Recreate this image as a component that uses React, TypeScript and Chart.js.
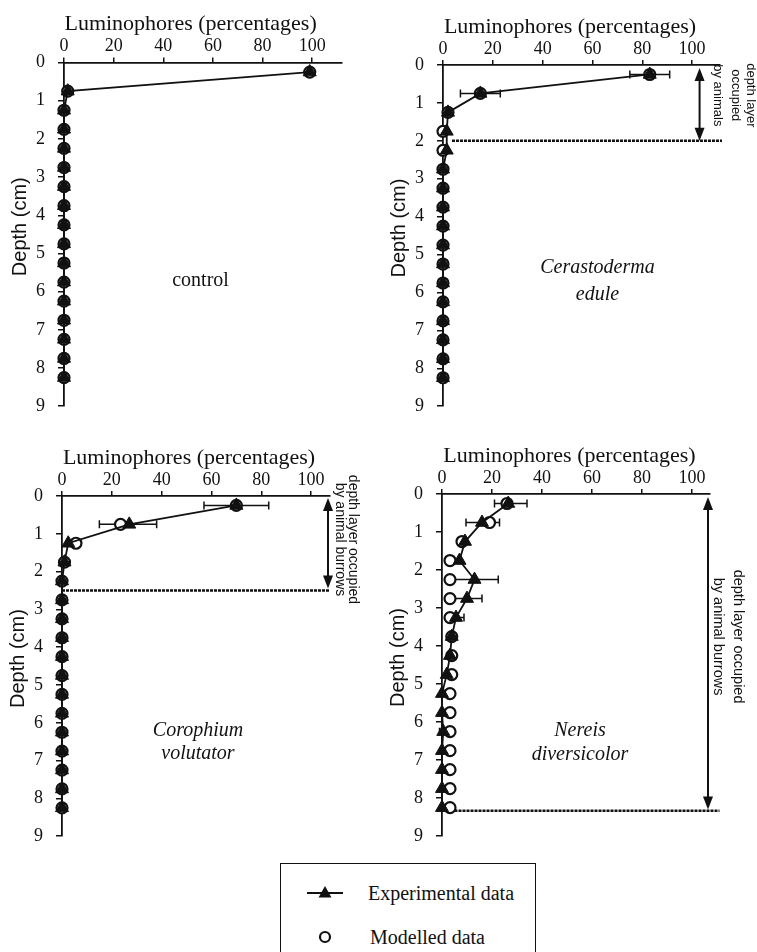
import { useEffect, useRef } from "react";
import { Chart, registerables } from "chart.js";

Chart.register(...registerables);

// ---------- data ----------
const depths = [0.25, 0.75, 1.25, 1.75, 2.25, 2.75, 3.25, 3.75, 4.25, 4.75, 5.25, 5.75, 6.25, 6.75, 7.25, 7.75, 8.25];
const percentTicks = [0, 20, 40, 60, 80, 100];
const depthTicks = [0, 1, 2, 3, 4, 5, 6, 7, 8, 9];

const controlExperimental = [99, 1.5, 0, 0, 0, 0, 0, 0, 0, 0, 0, 0, 0, 0, 0, 0, 0];
const controlModelled = [99, 1.5, 0, 0, 0, 0, 0, 0, 0, 0, 0, 0, 0, 0, 0, 0, 0];
const controlErrLow: (number | null)[] = [null, null, null, null, null, null, null, null, null, null, null, null, null, null, null, null, null];
const controlErrHigh: (number | null)[] = [null, null, null, null, null, null, null, null, null, null, null, null, null, null, null, null, null];

const cerastodermaExperimental = [83, 15, 2, 1.5, 1.5, 0, 0, 0, 0, 0, 0, 0, 0, 0, 0, 0, 0];
const cerastodermaModelled = [83, 15, 2, 0, 0, 0, 0, 0, 0, 0, 0, 0, 0, 0, 0, 0, 0];
const cerastodermaErrLow: (number | null)[] = [75, 7, null, null, null, null, null, null, null, null, null, null, null, null, null, null, null];
const cerastodermaErrHigh: (number | null)[] = [91, 23, null, null, null, null, null, null, null, null, null, null, null, null, null, null, null];

const corophiumExperimental = [70, 27, 2.5, 1, 0, 0, 0, 0, 0, 0, 0, 0, 0, 0, 0, 0, 0];
const corophiumModelled = [70, 23.5, 5.6, 1, 0, 0, 0, 0, 0, 0, 0, 0, 0, 0, 0, 0, 0];
const corophiumErrLow: (number | null)[] = [57, 15, null, null, null, null, null, null, null, null, null, null, null, null, null, null, null];
const corophiumErrHigh: (number | null)[] = [83, 38, null, null, null, null, null, null, null, null, null, null, null, null, null, null, null];

const nereisExperimental = [26.5, 16, 9.2, 7, 13, 10, 5.6, 3.9, 3.2, 1.9, 0, 0, 0.5, 0, 0, 0, 0];
const nereisModelled = [26, 19, 8, 3.2, 3.2, 3.2, 3.2, 3.9, 3.9, 3.9, 3.2, 3.2, 3.2, 3.2, 3.2, 3.2, 3.2];
const nereisErrLow: (number | null)[] = [21, 9.6, null, null, 3.5, 4, 2.4, null, null, null, null, null, -1, null, null, null, null];
const nereisErrHigh: (number | null)[] = [34, 23, null, null, 22.5, 16, 8.8, null, null, null, null, null, 2, null, null, null, null];

// ---------- styling ----------
const INK = "#111";
const SERIF = '"Liberation Serif", "Times New Roman", serif';
const SANS = '"Liberation Sans", Arial, sans-serif';

type Panel = {
  key: string;
  left: number; top: number; width: number; height: number;
  area: { l: number; t: number; r: number; b: number };
  xMax: number;
  experimental: number[]; modelled: number[];
  errLow: (number | null)[]; errHigh: (number | null)[];
  label: string[]; italic: boolean; labelX: number; labelY: number[];
  arrow?: { x: number; from: number; to: number };
  dashed?: { y: number; from: number; to: number };
  side?: { lines: string[]; xs: number[]; y: number; size: number };
};

const panels: Panel[] = [
  {
    key: "control", left: 0, top: 0, width: 378, height: 430,
    area: { l: 64, t: 62.5, r: 342, b: 412 }, xMax: 112,
    experimental: controlExperimental, modelled: controlModelled,
    errLow: controlErrLow, errHigh: controlErrHigh,
    label: ["control"], italic: false, labelX: 55, labelY: [5.72],
  },
  {
    key: "cerastoderma", left: 378, top: 0, width: 379, height: 430,
    area: { l: 443, t: 65, r: 720, b: 414 }, xMax: 111.2,
    experimental: cerastodermaExperimental, modelled: cerastodermaModelled,
    errLow: cerastodermaErrLow, errHigh: cerastodermaErrHigh,
    label: ["Cerastoderma", "edule"], italic: true, labelX: 62, labelY: [5.35, 6.05],
    arrow: { x: 103, from: 0.08, to: 2.0 },
    dashed: { y: 2.0, from: 3.6, to: 112 },
    side: { lines: ["depth layer", "occupied", "by animals"], xs: [123.3, 117.3, 110.4], y: 0.8, size: 13 },
  },
  {
    key: "corophium", left: 0, top: 430, width: 378, height: 430,
    area: { l: 62, t: 496, r: 330, b: 840 }, xMax: 107.6,
    experimental: corophiumExperimental, modelled: corophiumModelled,
    errLow: corophiumErrLow, errHigh: corophiumErrHigh,
    label: ["Corophium", "volutator"], italic: true, labelX: 54.6, labelY: [6.2, 6.83],
    arrow: { x: 106.8, from: 0.05, to: 2.45 },
    dashed: { y: 2.5, from: 0, to: 107.5 },
    side: { lines: ["depth layer occupied", "by animal burrows"], xs: [116.9, 111.6], y: 1.15, size: 14 },
  },
  {
    key: "nereis", left: 378, top: 430, width: 379, height: 430,
    area: { l: 442, t: 494, r: 710, b: 840 }, xMax: 107.2,
    experimental: nereisExperimental, modelled: nereisModelled,
    errLow: nereisErrLow, errHigh: nereisErrHigh,
    label: ["Nereis", "diversicolor"], italic: true, labelX: 55.2, labelY: [6.22, 6.85],
    arrow: { x: 106.4, from: 0.08, to: 8.3 },
    dashed: { y: 8.33, from: 5, to: 111 },
    side: { lines: ["depth layer occupied", "by animal burrows"], xs: [118.4, 110.4], y: 3.75, size: 14.5 },
  },
];

function drawArrowHead(ctx: CanvasRenderingContext2D, x: number, y: number, dir: number) {
  ctx.beginPath();
  ctx.moveTo(x, y);
  ctx.lineTo(x - 5, y - dir * 13);
  ctx.lineTo(x + 5, y - dir * 13);
  ctx.closePath();
  ctx.fill();
}

function makePlugin(p: Panel) {
  return {
    id: "decor_" + p.key,
    beforeDatasetsDraw(chart: any) {
      const { ctx } = chart;
      const xs = chart.scales.x;
      const ys = chart.scales.y;
      ctx.save();
      ctx.strokeStyle = INK;
      ctx.lineWidth = 1.5;
      p.errLow.forEach((lo, i) => {
        const hi = p.errHigh[i];
        if (lo == null || hi == null) return;
        const y = ys.getPixelForValue(depths[i]);
        const x0 = xs.getPixelForValue(lo);
        const x1 = xs.getPixelForValue(hi);
        ctx.beginPath();
        ctx.moveTo(x0, y); ctx.lineTo(x1, y);
        ctx.moveTo(x0, y - 4); ctx.lineTo(x0, y + 4);
        ctx.moveTo(x1, y - 4); ctx.lineTo(x1, y + 4);
        ctx.stroke();
      });
      ctx.restore();
    },
    afterDraw(chart: any) {
      const { ctx, chartArea } = chart;
      const xs = chart.scales.x;
      const ys = chart.scales.y;
      ctx.save();
      ctx.fillStyle = INK;
      ctx.strokeStyle = INK;
      // x axis title
      ctx.font = `22px ${SERIF}`;
      ctx.textAlign = "center";
      ctx.textBaseline = "middle";
      ctx.fillText("Luminophores (percentages)", xs.getPixelForValue(51), chartArea.top - 38);
      // y axis title
      ctx.save();
      ctx.translate(chartArea.left - 44, ys.getPixelForValue(4.3));
      ctx.rotate(-Math.PI / 2);
      ctx.font = `20px ${SANS}`;
      ctx.fillText("Depth (cm)", 0, 0);
      ctx.restore();
      // panel label
      ctx.font = `${p.italic ? "italic " : ""}20px ${SERIF}`;
      p.label.forEach((t, i) => {
        ctx.fillText(t, xs.getPixelForValue(p.labelX), ys.getPixelForValue(p.labelY[i]));
      });
      // dashed line
      if (p.dashed) {
        const y = ys.getPixelForValue(p.dashed.y);
        ctx.save();
        ctx.lineWidth = 2.5;
        ctx.setLineDash([3, 1]);
        ctx.beginPath();
        ctx.moveTo(xs.getPixelForValue(p.dashed.from), y);
        ctx.lineTo(xs.getPixelForValue(p.dashed.to), y);
        ctx.stroke();
        ctx.restore();
      }
      // double arrow
      if (p.arrow) {
        const x = xs.getPixelForValue(p.arrow.x);
        const y0 = ys.getPixelForValue(p.arrow.from);
        const y1 = ys.getPixelForValue(p.arrow.to);
        ctx.lineWidth = 2;
        ctx.beginPath();
        ctx.moveTo(x, y0 + 8);
        ctx.lineTo(x, y1 - 8);
        ctx.stroke();
        drawArrowHead(ctx, x, y0, -1);
        drawArrowHead(ctx, x, y1, 1);
      }
      // side note
      if (p.side) {
        const s = p.side;
        ctx.font = `${s.size}px ${SANS}`;
        ctx.textAlign = "center";
        ctx.textBaseline = "middle";
        s.lines.forEach((t, i) => {
          ctx.save();
          ctx.translate(xs.getPixelForValue(s.xs[i]), ys.getPixelForValue(s.y));
          ctx.rotate(Math.PI / 2);
          ctx.fillText(t, 0, 0);
          ctx.restore();
        });
      }
      ctx.restore();
    },
  };
}

function PanelChart({ p }: { p: Panel }) {
  const ref = useRef<HTMLCanvasElement>(null);
  useEffect(() => {
    if (!ref.current) return;
    const tickFont = { family: SERIF, size: 18 };
    const chart = new Chart(ref.current, {
      type: "scatter",
      data: {
        datasets: [
          {
            label: "Experimental data",
            data: depths.map((d, i) => ({ x: p.experimental[i], y: d })),
            showLine: true,
            borderColor: INK,
            borderWidth: 1.8,
            pointStyle: "triangle",
            pointRadius: 7.5,
            pointBackgroundColor: INK,
            pointBorderColor: INK,
            pointBorderWidth: 1,
            clip: false,
            order: 0,
          } as any,
          {
            label: "Modelled data",
            data: depths.map((d, i) => ({ x: p.modelled[i], y: d })),
            showLine: false,
            pointStyle: "circle",
            pointRadius: 5.5,
            pointBackgroundColor: "#fff",
            pointBorderColor: INK,
            pointBorderWidth: 2.2,
            clip: false,
            order: 1,
          } as any,
        ],
      },
      options: {
        animation: false,
        responsive: false,
        maintainAspectRatio: false,
        events: [],
        layout: {
          padding: {
            left: 0,
            top: 0,
            right: p.left + p.width - p.area.r,
            bottom: p.top + p.height - p.area.b,
          },
        },
        plugins: { legend: { display: false }, tooltip: { enabled: false } },
        scales: {
          x: {
            type: "linear",
            position: "top",
            min: 0,
            max: p.xMax,
            afterBuildTicks: (s: any) => { s.ticks = percentTicks.map((v) => ({ value: v })); },
            afterFit: (s: any) => { s.height = p.area.t - p.top; },
            grid: { display: true, drawOnChartArea: false, drawTicks: true, tickLength: 5, color: INK, lineWidth: 1.5 },
            border: { display: true, color: INK, width: 1.8 },
            ticks: { font: tickFont, color: INK, padding: 0, maxRotation: 0, autoSkip: false },
          },
          y: {
            type: "linear",
            position: "left",
            reverse: true,
            min: 0,
            max: 9,
            afterBuildTicks: (s: any) => { s.ticks = depthTicks.map((v) => ({ value: v })); },
            afterFit: (s: any) => { s.width = p.area.l - p.left; },
            grid: { display: true, drawOnChartArea: false, drawTicks: true, tickLength: 6, color: INK, lineWidth: 1.5 },
            border: { display: true, color: INK, width: 1.8 },
            ticks: { font: tickFont, color: INK, padding: 13, autoSkip: false },
          },
        },
      } as any,
      plugins: [makePlugin(p)],
    });
    return () => chart.destroy();
  }, [p]);
  return (
    <canvas
      ref={ref}
      width={p.width}
      height={p.height}
      style={{ position: "absolute", left: p.left, top: p.top, width: p.width, height: p.height, display: "block" }}
    />
  );
}

export default function App() {
  return (
    <div style={{ position: "fixed", left: 0, top: 0, width: 757, height: 952, background: "#fff", overflow: "hidden" }}>
      {panels.map((p) => (
        <PanelChart key={p.key} p={p} />
      ))}
      <div
        style={{
          position: "absolute", left: 280, top: 863, width: 256, height: 120,
          borderLeft: `1.5px solid ${INK}`, borderRight: `1.5px solid ${INK}`, borderTop: `1.5px solid ${INK}`,
          boxSizing: "border-box", fontFamily: SERIF, fontSize: 20, color: INK,
        }}
      >
        <svg width={80} height={90} style={{ position: "absolute", left: 0, top: 0 }}>
          <line x1={26} y1={29} x2={62} y2={29} stroke={INK} strokeWidth={1.8} />
          <polygon points="44,22 37.5,33.5 50.5,33.5" fill={INK} />
          <circle cx={44} cy={73} r={5} fill="#fff" stroke={INK} strokeWidth={2.2} />
        </svg>
        <div style={{ position: "absolute", left: 87, top: 29, transform: "translateY(-50%)", whiteSpace: "nowrap", lineHeight: 1 }}>Experimental data</div>
        <div style={{ position: "absolute", left: 89, top: 73, transform: "translateY(-50%)", whiteSpace: "nowrap", lineHeight: 1 }}>Modelled data</div>
      </div>
    </div>
  );
}
